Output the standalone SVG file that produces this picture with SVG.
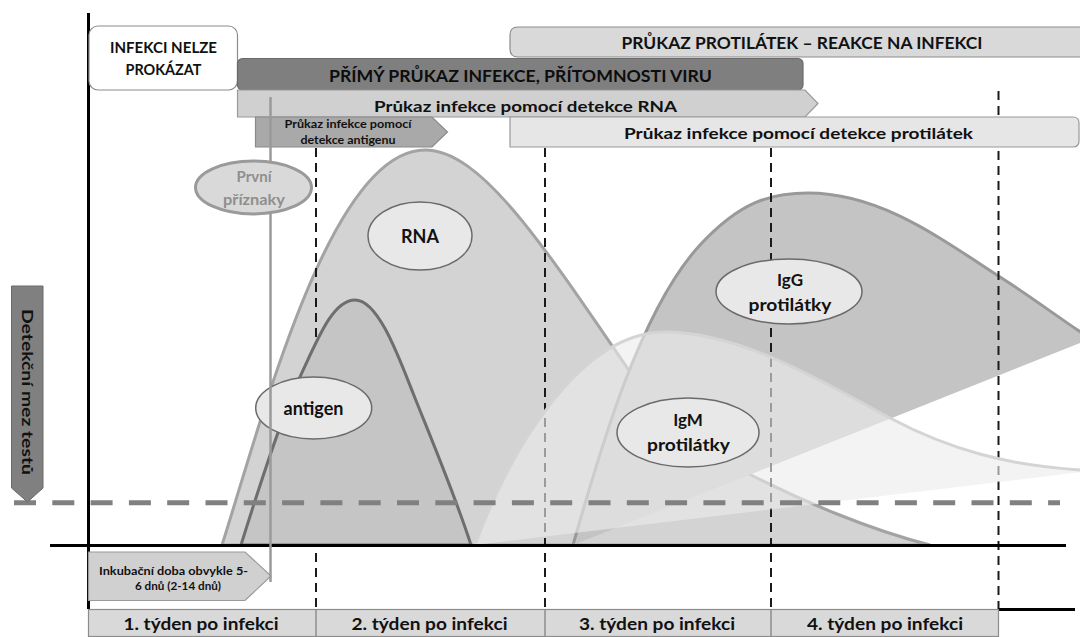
<svg xmlns="http://www.w3.org/2000/svg" width="1080" height="637" viewBox="0 0 1080 637">
<defs>
<style>
text{font-family:Lato,"Liberation Sans",sans-serif;font-weight:bold;fill:#111;text-anchor:middle}
.bar{stroke-width:1.2}
.ell{fill:#e8e8e8;stroke:#6a6a6a;stroke-width:1.5}
.vd{stroke:#1a1a1a;stroke-width:2;stroke-dasharray:9 6;fill:none}
.axis{stroke:#000;stroke-width:3;fill:none}
.t18{font-size:18px}
.t17{font-size:17px}
.t16{font-size:16px}
.t11{font-size:11px}
</style>
</defs>
<rect width="1080" height="637" fill="#fff"/>

<g id="curves">
<path id="rna-curve" d="M222,545 C262,420 330,150 425,150 C480,150 540,240 630,372 C660,416 700,450 751,475 C800,500 870,530 930,545 Z" fill="#d3d3d3" stroke="#a3a3a3" stroke-width="3"/>
<path id="igg-fill" d="M573,545 C600,450 640,310 700,245 C740,202 770,193 808,193 C880,193 940,238 1000,277 C1030,296 1055,315 1080,332 L1086,332 L1086,341 L1080,343 Z" fill="#c4c4c4"/>
<path id="igg-line" d="M573,545 C600,450 640,310 700,245 C740,202 770,193 808,193 C880,193 940,238 1000,277 C1030,296 1055,315 1082,333" fill="none" stroke="#999" stroke-width="3"/>
</g>

<g id="connectors">
<line class="vd" x1="316" y1="148" x2="316" y2="609"/>
<line class="vd" x1="545" y1="148" x2="545" y2="609"/>
<line class="vd" x1="771" y1="148" x2="771" y2="609"/>
<line class="vd" x1="998.5" y1="91" x2="998.5" y2="609"/>
</g>

<g id="curves-front">
<path id="antigen-curve" d="M241,545 C255,500 280,420 300,377 C318,338 333,300 355,300 C378,300 398,355 413,393 C428,431 455,495 471,545 Z" fill="#c5c5c5" stroke="#6e6e6e" stroke-width="3"/>
<path id="igm-fill" d="M475,545 C510,450 580,332 665,332 C740,332 820,380 890,418 C950,450 1010,466 1082,470 L1082,472 Z" fill="#ebebeb" fill-opacity="0.62"/>
<path id="igm-line" d="M475,545 C510,450 580,332 665,332 C740,332 820,380 890,418 C950,450 1010,466 1082,470" fill="none" stroke="#d4d4d4" stroke-width="3"/>
</g>

<line id="threshold" x1="14" y1="502.8" x2="1060" y2="502.8" stroke="#808080" stroke-width="5" stroke-dasharray="22 16.3"/>

<g id="axes">
<line class="axis" x1="88.5" y1="13" x2="88.5" y2="609"/>
<line class="axis" x1="50" y1="545.5" x2="1066" y2="545.5"/>
<line class="axis" x1="998" y1="609.5" x2="1075" y2="609.5"/>
</g>

<g id="n-infekci-nelze">
<rect class="bar" x="89" y="26" width="148.5" height="64" rx="9" fill="#fff" stroke="#8c8c8c"/>
<text x="163.5" y="53" font-size="14.5px" textLength="107" lengthAdjust="spacingAndGlyphs">INFEKCI NELZE</text>
<text x="163.5" y="75" font-size="14.5px" textLength="76" lengthAdjust="spacingAndGlyphs">PROKÁZAT</text>
</g>

<g id="n-prukaz-protilatek">
<path class="bar" d="M518,27 H1086 V57 H518 Q510,57 510,49 V35 Q510,27 518,27 Z" fill="#d9d9d9" stroke="#8c8c8c"/>
<text class="t17" x="802" y="48.5" textLength="361" lengthAdjust="spacingAndGlyphs">PRŮKAZ PROTILÁTEK – REAKCE NA INFEKCI</text>
</g>

<g id="n-primy-prukaz">
<rect class="bar" x="237.5" y="58.5" width="565.5" height="31.5" rx="5" fill="#7f7f7f" stroke="#6b6b6b"/>
<text class="t17" x="520.5" y="81.5" textLength="383" lengthAdjust="spacingAndGlyphs" style="fill:#0d0d0d">PŘÍMÝ PRŮKAZ INFEKCE, PŘÍTOMNOSTI VIRU</text>
</g>

<g id="n-rna-detekce">
<polygon class="bar" points="237.5,90 805,90 818,103.5 805,117 237.5,117" fill="#d0d0d0" stroke="#9a9a9a"/>
<text class="t16" x="525.5" y="111.5" textLength="303" lengthAdjust="spacingAndGlyphs">Průkaz infekce pomocí detekce RNA</text>
</g>

<g id="n-antigen-detekce">
<polygon class="bar" points="255.5,117 432,117 447.5,132 432,147 255.5,147" fill="#a9a9a9" stroke="#8a8a8a"/>
<text class="t11" x="348" y="128" textLength="127" lengthAdjust="spacingAndGlyphs">Průkaz infekce pomocí</text>
<text class="t11" x="348" y="143.5" textLength="95" lengthAdjust="spacingAndGlyphs">detekce antigenu</text>
</g>

<g id="n-protilatky-detekce">
<path class="bar" d="M510,117 H1073 Q1079,117 1079,123 V141 Q1079,147 1073,147 H510 Z" fill="#e6e6e6" stroke="#999"/>
<text class="t16" x="798.5" y="138.5" textLength="349" lengthAdjust="spacingAndGlyphs">Průkaz infekce pomocí detekce protilátek</text>
</g>

<g id="n-rna">
<ellipse class="ell" cx="420" cy="236" rx="52" ry="34"/>
<text class="t18" x="420" y="243">RNA</text>
</g>

<g id="n-igg">
<ellipse class="ell" cx="789" cy="291.5" rx="73" ry="32.5"/>
<text class="t17" x="790" y="286">IgG</text>
<text class="t17" x="790" y="311" textLength="83" lengthAdjust="spacingAndGlyphs">protilátky</text>
</g>

<g id="n-igm">
<ellipse class="ell" cx="688" cy="432.5" rx="71" ry="34.5"/>
<text class="t17" x="688" y="426">IgM</text>
<text class="t17" x="688.5" y="451" textLength="83" lengthAdjust="spacingAndGlyphs">protilátky</text>
</g>

<g id="n-antigen">
<ellipse class="ell" cx="313.7" cy="408" rx="58" ry="31"/>
<text class="t18" x="313.5" y="415">antigen</text>
</g>

<g id="n-detekcni-mez">
<polygon points="11.5,286 43,286 43,488 27.5,502 11.5,488" fill="#808080" stroke="#6b6b6b" stroke-width="1"/>
<text class="t16" transform="translate(27,392) rotate(90)" x="0" y="5.5" textLength="166" lengthAdjust="spacingAndGlyphs">Detekční mez testů</text>
</g>

<g id="n-inkubacni-doba">
<polygon points="88.5,552 245,552 271,576 245,600.5 88.5,600.5" fill="#d0d0d0" stroke="#9a9a9a" stroke-width="1.2"/>
<text class="t11" x="173.5" y="574.5" textLength="149" lengthAdjust="spacingAndGlyphs">Inkubační doba obvykle 5-</text>
<text class="t11" x="178" y="589.5" textLength="86" lengthAdjust="spacingAndGlyphs">6 dnů (2-14 dnů)</text>
</g>

<line id="first-symptoms-line" x1="270.5" y1="97" x2="270.5" y2="582" stroke="#9a9a9a" stroke-width="2.5"/>

<g id="n-prvni-priznaky">
<ellipse cx="253.5" cy="187.5" rx="58" ry="26.5" fill="#d9d9d9" stroke="#9a9a9a" stroke-width="3"/>
<text x="254" y="182" font-size="15px" style="fill:#8f8f8f">První</text>
<text x="254" y="205" font-size="15px" style="fill:#8f8f8f" textLength="62" lengthAdjust="spacingAndGlyphs">příznaky</text>
</g>

<g id="n-weeks">
<rect x="88.5" y="609.5" width="910" height="27" fill="#d9d9d9" stroke="#8c8c8c" stroke-width="1.2"/>
<line x1="316" y1="609.5" x2="316" y2="636.5" stroke="#8c8c8c" stroke-width="1.5"/>
<line x1="545" y1="609.5" x2="545" y2="636.5" stroke="#8c8c8c" stroke-width="1.5"/>
<line x1="771" y1="609.5" x2="771" y2="636.5" stroke="#8c8c8c" stroke-width="1.5"/>
<text class="t17" x="201" y="630" textLength="155" lengthAdjust="spacingAndGlyphs">1. týden po infekci</text>
<text class="t17" x="429.5" y="630" textLength="156" lengthAdjust="spacingAndGlyphs">2. týden po infekci</text>
<text class="t17" x="657" y="630" textLength="156" lengthAdjust="spacingAndGlyphs">3. týden po infekci</text>
<text class="t17" x="885" y="630" textLength="156" lengthAdjust="spacingAndGlyphs">4. týden po infekci</text>
</g>
</svg>
